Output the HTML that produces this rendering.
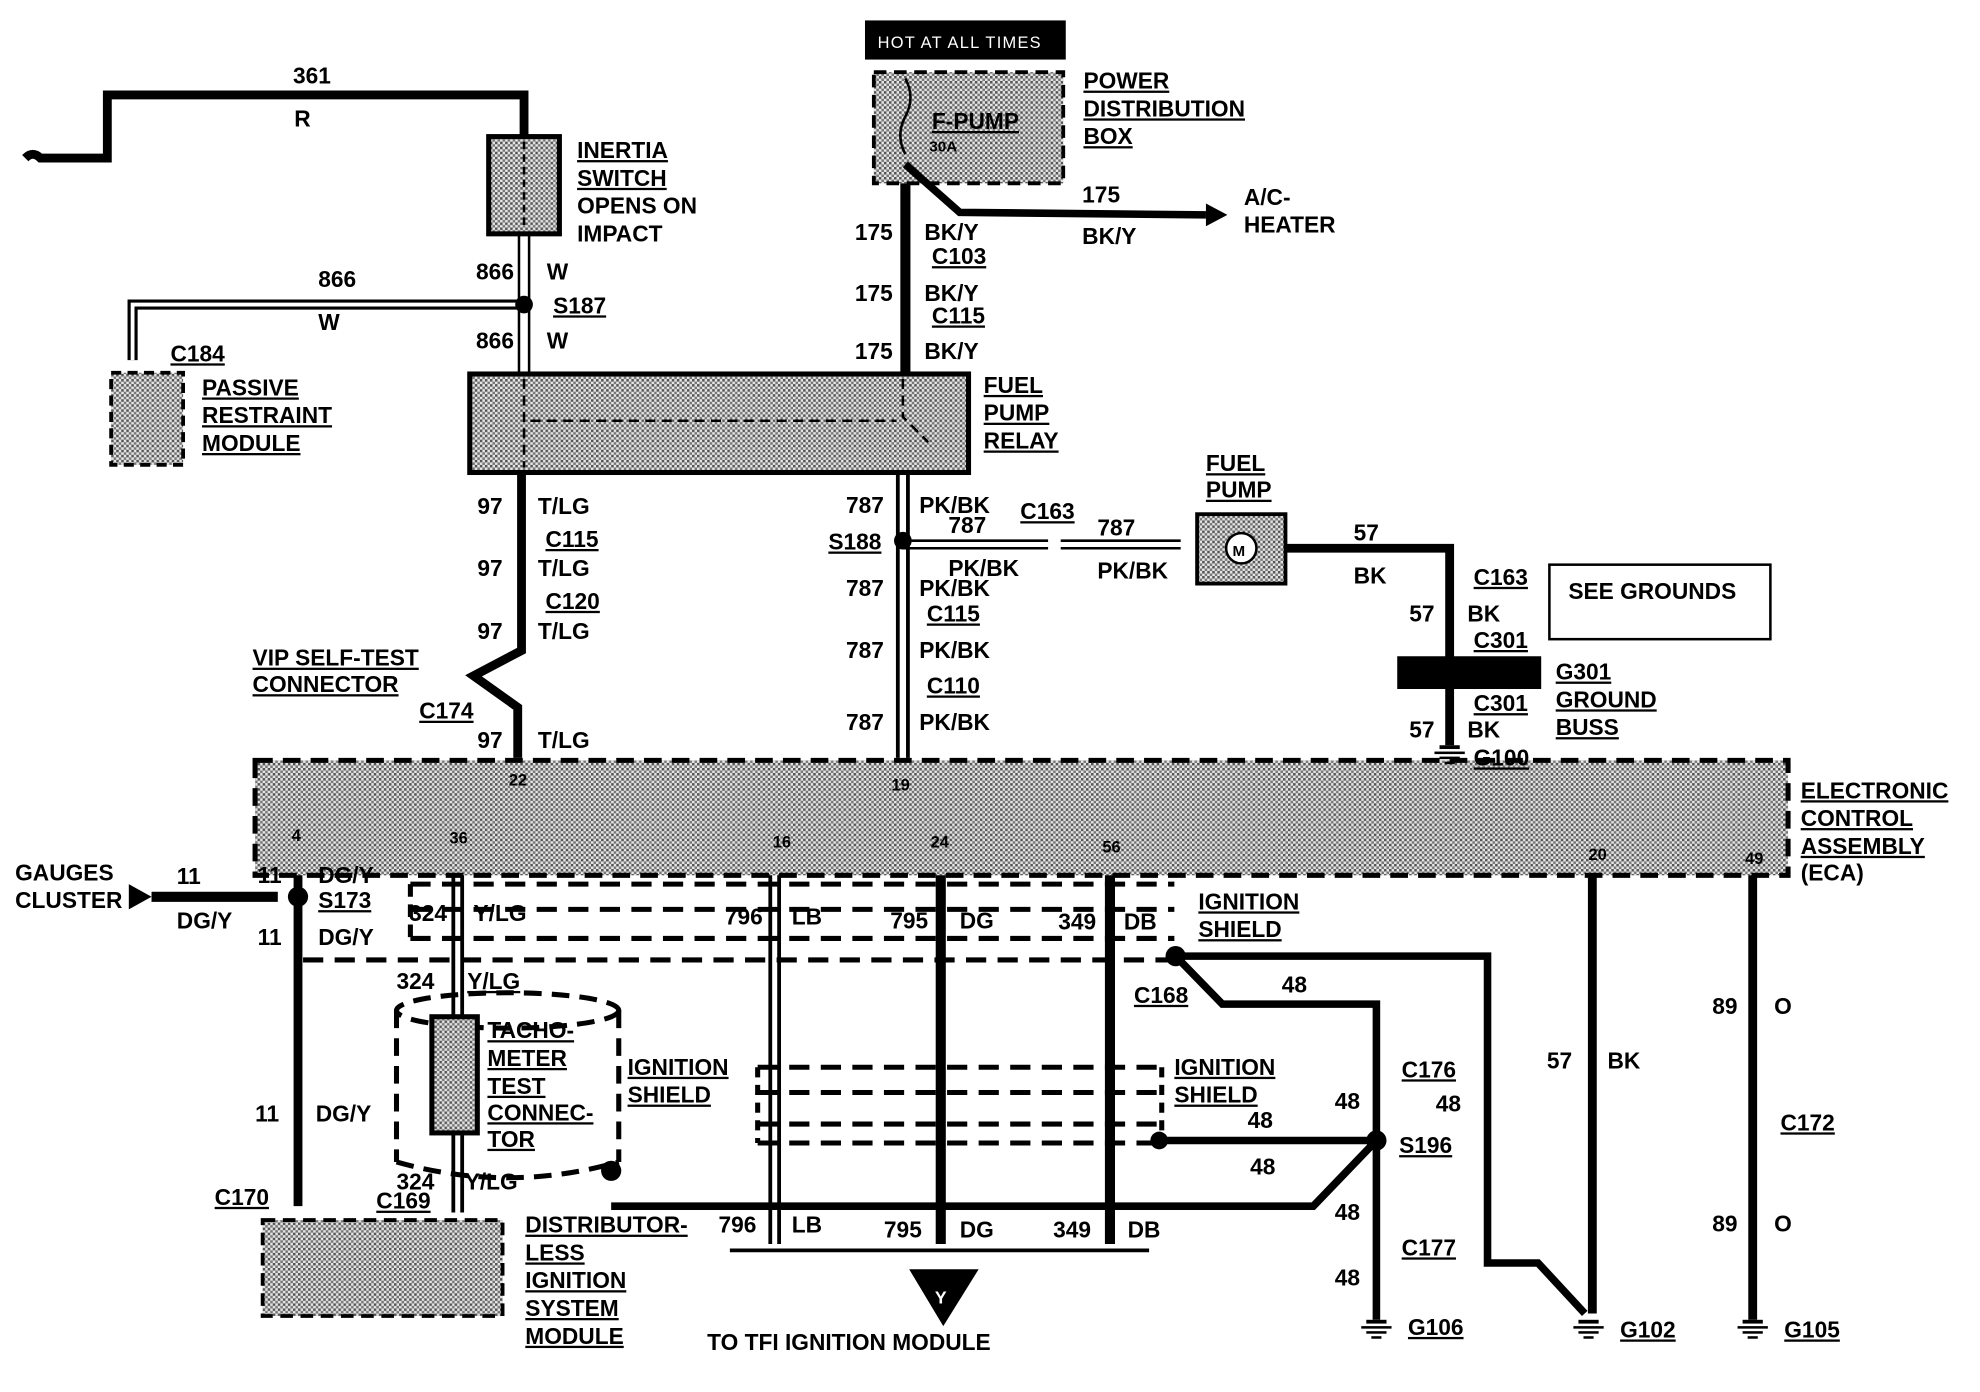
<!DOCTYPE html>
<html><head><meta charset="utf-8"><style>
html,body{margin:0;padding:0;background:#fff;width:1980px;height:1392px;overflow:hidden}
svg{display:block}
text{font-family:"Liberation Sans",sans-serif;font-weight:bold;font-size:18px;fill:#000}
.u{text-decoration:underline}
</style></head><body>
<svg width="1980" height="1392" viewBox="0 0 1568 1102" xmlns="http://www.w3.org/2000/svg">
<defs>
<pattern id="st" width="4" height="4" patternUnits="userSpaceOnUse">
<rect width="4" height="4" fill="#e6e6e6"/><rect width="2" height="2" fill="#555"/><rect x="2" y="2" width="2" height="2" fill="#777"/>
</pattern>
<g id="gnd" fill="#000"><rect x="-8" y="0" width="16" height="3"/><rect x="-12" y="5" width="24" height="2"/><rect x="-8" y="9" width="16" height="2"/><rect x="-4" y="13" width="8" height="2"/></g>
</defs>
<g fill="none" stroke="#000" stroke-linecap="butt">
<path d="M20 125 q6 -6 12 0 L85 125 L85 75 L415 75 L415 108" stroke-width="7"/>
<rect x="387" y="108" width="56" height="77" fill="url(#st)" stroke-width="4"/>
<path d="M415 112 V182" stroke-width="2" stroke-dasharray="6 4"/>
<path d="M411 185 V296 M419 185 V296" stroke-width="2"/>
<path d="M415 241 H105 V285" stroke-width="8"/>
<path d="M415 241 H105 V285" stroke-width="3" stroke="#fff"/>
<rect x="88" y="295" width="57" height="73" fill="url(#st)" stroke-width="3" stroke-dasharray="8 5"/>
<rect x="372" y="296" width="395" height="78" fill="url(#st)" stroke-width="4"/>
<path d="M415 300 V370 M420 333 H710 M715 300 V330 L735 350" stroke-width="2" stroke-dasharray="8 5"/>
<path d="M413 374 V515 L375 535 L410 560 V600" stroke-width="7"/>
<rect x="692" y="57" width="150" height="88" fill="url(#st)" stroke-width="3" stroke-dasharray="10 6"/>
<path d="M717 145 V296" stroke-width="8"/>
<path d="M717 130 L760 168 L955 170" stroke-width="6"/>
<path d="M717 62 q8 15 0 30 q-8 15 0 30" stroke-width="2"/>
<path d="M711 374 V600 M719 374 V600" stroke-width="3"/>
<path d="M715 428 H830 M715 434 H830 M840 428 H935 M840 434 H935" stroke-width="2"/>
<rect x="948" y="407" width="70" height="55" fill="url(#st)" stroke-width="3"/>
<circle cx="983" cy="434" r="12" fill="#fff" stroke-width="2"/>
<path d="M1018 434 H1148 V520" stroke-width="7"/>
<path d="M1148 545 V590" stroke-width="7"/>
<rect x="1227" y="447" width="175" height="59" stroke-width="2"/>
<rect x="202" y="602" width="1214" height="91" fill="url(#st)" stroke-width="4" stroke-dasharray="14 8"/>
<path d="M236 693 V955" stroke-width="7"/>
<path d="M120 710 H220" stroke-width="8"/>
<path d="M359 693 V960 M366 693 V960" stroke-width="3"/>
<path d="M610 693 V985 M617 693 V985" stroke-width="3"/>
<path d="M745 693 V985" stroke-width="8"/>
<path d="M879 693 V985" stroke-width="8"/>
<path d="M1261 693 V1040" stroke-width="7"/>
<path d="M1388 693 V1045" stroke-width="7"/>
<path d="M931 757 H1178 V1000 L1218 1000 L1255 1040" stroke-width="6"/>
<path d="M931 757 L968 795 H1090 V1045" stroke-width="6"/>
<path d="M918 903 H1090 L1040 955 H484" stroke-width="6"/>
<path d="M325 700 H930 M325 720 H930 M325 743 H930 M240 760 H930" stroke-width="4" stroke-dasharray="16 9"/>
<path d="M325 700 V745" stroke-width="4" stroke-dasharray="10 6"/>
<path d="M600 845 H920 M600 865 H920 M600 890 H920 M600 905 H920" stroke-width="4" stroke-dasharray="16 9"/>
<path d="M600 845 V905 M920 845 V905" stroke-width="4" stroke-dasharray="8 6"/>
<ellipse cx="402" cy="800" rx="88" ry="14" stroke-width="4" stroke-dasharray="14 8"/>
<path d="M314 800 V920 M490 800 V920 M314 920 Q402 945 490 920" stroke-width="4" stroke-dasharray="14 8"/>
<rect x="342" y="805" width="36" height="92" fill="url(#st)" stroke-width="4"/>
<rect x="208" y="966" width="190" height="76" fill="url(#st)" stroke-width="3" stroke-dasharray="10 6"/>
<path d="M578 990 H910" stroke-width="3"/>
<path d="M1107 520 H1220 V545 H1107 Z" fill="#000"/>
</g>
<g fill="#000">
<circle cx="415" cy="241" r="7"/><circle cx="715" cy="428" r="7"/><circle cx="236" cy="710" r="8"/>
<circle cx="931" cy="757" r="8"/><circle cx="484" cy="927" r="8"/><circle cx="918" cy="903" r="7"/><circle cx="1090" cy="903" r="8"/>
<path d="M955 161 L972 170 L955 179 Z"/><path d="M102 700 L120 710 L102 720 Z"/>
<path d="M720 1005 H775 L747 1050 Z"/>
<rect x="685" y="16" width="159" height="31"/>
</g>
<use href="#gnd" x="1148" y="590"/><use href="#gnd" x="1090" y="1045"/><use href="#gnd" x="1258" y="1045"/><use href="#gnd" x="1388" y="1045"/>
<text x="695" y="38" style="fill:#fff;font-weight:normal;font-size:13px;letter-spacing:1px">HOT AT ALL TIMES</text>
<text x="745" y="1032" style="fill:#fff;font-size:14px" text-anchor="middle">Y</text>
<text x="232" y="66">361</text><text x="233" y="100">R</text>
<text x="457" y="125" class="u">INERTIA</text><text x="457" y="147" class="u">SWITCH</text><text x="457" y="169">OPENS ON</text><text x="457" y="191">IMPACT</text>
<text x="377" y="221">866</text><text x="433" y="221">W</text><text x="252" y="227">866</text><text x="252" y="261">W</text>
<text x="438" y="248" class="u">S187</text><text x="377" y="276">866</text><text x="433" y="276">W</text>
<text x="135" y="286" class="u">C184</text>
<text x="160" y="313" class="u">PASSIVE</text><text x="160" y="335" class="u">RESTRAINT</text><text x="160" y="357" class="u">MODULE</text>
<text x="858" y="70" class="u">POWER</text><text x="858" y="92" class="u">DISTRIBUTION</text><text x="858" y="114" class="u">BOX</text>
<text x="738" y="102" class="u">F-PUMP</text><text x="736" y="120" style="font-size:12px">30A</text>
<text x="857" y="160">175</text><text x="857" y="193">BK/Y</text><text x="985" y="162">A/C-</text><text x="985" y="184">HEATER</text>
<text x="677" y="190">175</text><text x="732" y="190">BK/Y</text><text x="738" y="209" class="u">C103</text>
<text x="677" y="238">175</text><text x="732" y="238">BK/Y</text><text x="738" y="256" class="u">C115</text>
<text x="677" y="284">175</text><text x="732" y="284">BK/Y</text>
<text x="779" y="311" class="u">FUEL</text><text x="779" y="333" class="u">PUMP</text><text x="779" y="355" class="u">RELAY</text>
<text x="378" y="407">97</text><text x="426" y="407">T/LG</text><text x="432" y="433" class="u">C115</text>
<text x="378" y="456">97</text><text x="426" y="456">T/LG</text><text x="432" y="482" class="u">C120</text>
<text x="378" y="506">97</text><text x="426" y="506">T/LG</text>
<text x="200" y="527" class="u">VIP SELF-TEST</text><text x="200" y="548" class="u">CONNECTOR</text><text x="332" y="569" class="u">C174</text>
<text x="378" y="592">97</text><text x="426" y="592">T/LG</text><text x="403" y="622" style="font-size:13px">22</text><text x="706" y="626" style="font-size:13px">19</text>
<text x="670" y="406">787</text><text x="728" y="406">PK/BK</text><text x="751" y="422">787</text><text x="808" y="411" class="u">C163</text>
<text x="656" y="435" class="u">S188</text><text x="751" y="456">PK/BK</text><text x="869" y="424">787</text><text x="869" y="458">PK/BK</text>
<text x="670" y="472">787</text><text x="728" y="472">PK/BK</text><text x="734" y="492" class="u">C115</text>
<text x="670" y="521">787</text><text x="728" y="521">PK/BK</text><text x="734" y="549" class="u">C110</text>
<text x="670" y="578">787</text><text x="728" y="578">PK/BK</text>
<text x="955" y="373" class="u">FUEL</text><text x="955" y="394" class="u">PUMP</text><text x="976" y="440" style="font-size:12px">M</text>
<text x="1072" y="428">57</text><text x="1072" y="462">BK</text>
<text x="1167" y="463" class="u">C163</text><text x="1242" y="474">SEE GROUNDS</text>
<text x="1116" y="492">57</text><text x="1162" y="492">BK</text><text x="1167" y="513" class="u">C301</text>
<text x="1232" y="538" class="u">G301</text><text x="1232" y="560" class="u">GROUND</text><text x="1232" y="582" class="u">BUSS</text>
<text x="1167" y="563" class="u">C301</text><text x="1116" y="584">57</text><text x="1162" y="584">BK</text><text x="1167" y="606" class="u">G100</text>
<text x="1426" y="632" class="u">ELECTRONIC</text><text x="1426" y="654" class="u">CONTROL</text><text x="1426" y="676" class="u">ASSEMBLY</text><text x="1426" y="697">(ECA)</text>
<text x="231" y="666" style="font-size:13px">4</text><text x="356" y="668" style="font-size:13px">36</text><text x="612" y="671" style="font-size:13px">16</text>
<text x="737" y="671" style="font-size:13px">24</text><text x="873" y="675" style="font-size:13px">56</text><text x="1258" y="681" style="font-size:13px">20</text><text x="1382" y="684" style="font-size:13px">49</text>
<text x="12" y="697">GAUGES</text><text x="12" y="719">CLUSTER</text><text x="140" y="700">11</text><text x="140" y="735">DG/Y</text>
<text x="204" y="699">11</text><text x="252" y="699">DG/Y</text><text x="252" y="719" class="u">S173</text>
<text x="204" y="748">11</text><text x="252" y="748">DG/Y</text>
<text x="324" y="729">324</text><text x="375" y="729">Y/LG</text><text x="574" y="732">796</text><text x="627" y="732">LB</text>
<text x="705" y="735">795</text><text x="760" y="735">DG</text><text x="838" y="736">349</text><text x="890" y="736">DB</text>
<text x="949" y="720" class="u">IGNITION</text><text x="949" y="742" class="u">SHIELD</text>
<text x="314" y="783">324</text><text x="370" y="783" class="u">Y/LG</text>
<text x="898" y="794" class="u">C168</text><text x="1015" y="786">48</text>
<text x="386" y="822" class="u">TACHO-</text><text x="386" y="844" class="u">METER</text><text x="386" y="866" class="u">TEST</text><text x="386" y="887" class="u">CONNEC-</text><text x="386" y="908" class="u">TOR</text>
<text x="497" y="851" class="u">IGNITION</text><text x="497" y="873" class="u">SHIELD</text>
<text x="930" y="851" class="u">IGNITION</text><text x="930" y="873" class="u">SHIELD</text><text x="988" y="893">48</text>
<text x="1110" y="853" class="u">C176</text><text x="1057" y="878">48</text><text x="1137" y="880">48</text>
<text x="1225" y="846">57</text><text x="1273" y="846">BK</text><text x="1356" y="803">89</text><text x="1405" y="803">O</text>
<text x="1108" y="913" class="u">S196</text><text x="990" y="930">48</text><text x="1410" y="895" class="u">C172</text>
<text x="202" y="888">11</text><text x="250" y="888">DG/Y</text>
<text x="314" y="942">324</text><text x="368" y="942">Y/LG</text><text x="298" y="957" class="u">C169</text><text x="170" y="954" class="u">C170</text>
<text x="569" y="976">796</text><text x="627" y="976">LB</text><text x="700" y="980">795</text><text x="760" y="980">DG</text>
<text x="834" y="980">349</text><text x="893" y="980">DB</text><text x="1057" y="966">48</text><text x="1110" y="994" class="u">C177</text>
<text x="1356" y="975">89</text><text x="1405" y="975">O</text><text x="1057" y="1018">48</text>
<text x="416" y="976" class="u">DISTRIBUTOR-</text><text x="416" y="998" class="u">LESS</text><text x="416" y="1020" class="u">IGNITION</text><text x="416" y="1042" class="u">SYSTEM</text><text x="416" y="1064" class="u">MODULE</text>
<text x="560" y="1069">TO TFI IGNITION MODULE</text>
<text x="1115" y="1057" class="u">G106</text><text x="1283" y="1059" class="u">G102</text><text x="1413" y="1059" class="u">G105</text>
</svg>
</body></html>
